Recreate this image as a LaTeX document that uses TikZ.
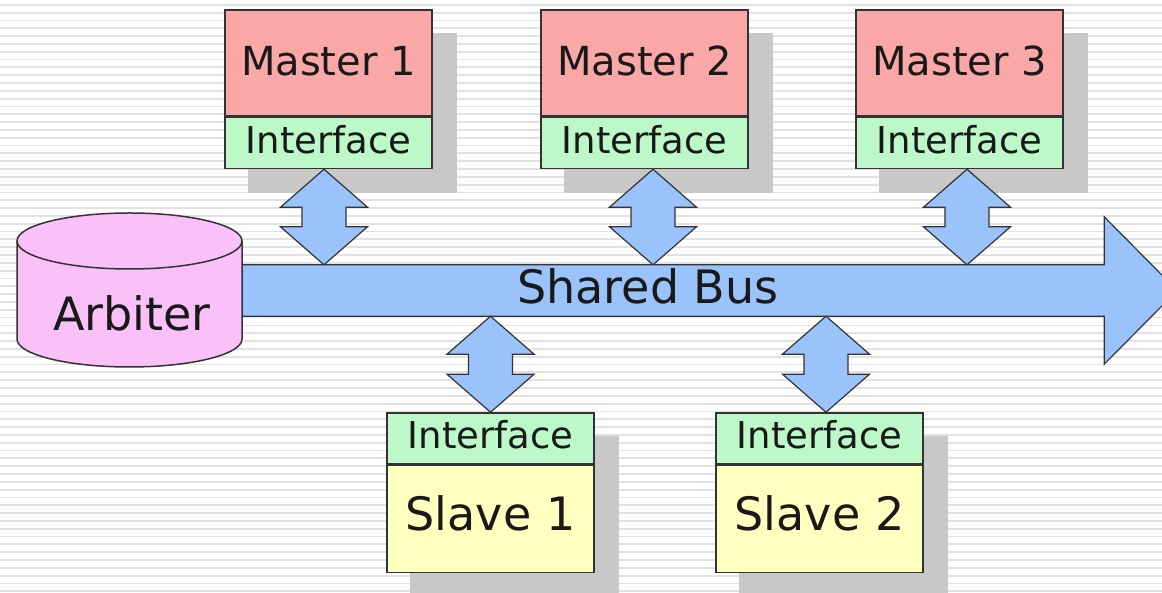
\documentclass[tikz,border=0pt]{standalone}
\usepackage{fontspec}
\setmainfont{DejaVu Sans}
\usetikzlibrary{calc}

\definecolor{masterred}{HTML}{F9A7A7}
\definecolor{ifacegreen}{HTML}{BDF8C9}
\definecolor{slaveyellow}{HTML}{FFFFC0}
\definecolor{arbpink}{HTML}{F9C0F9}
\definecolor{busblue}{HTML}{99C3FA}
\definecolor{edgegray}{HTML}{333333}
\definecolor{shadowgray}{HTML}{C8C8C8}
\definecolor{stripegray}{HTML}{E2E2E2}

\pgfdeclarelayer{paper}
\pgfdeclarelayer{shade}
\pgfsetlayers{paper,shade,main}

\tikzset{
  box/.style={draw=edgegray, line width=1.5pt, inner sep=0pt,
    minimum width=207pt, text=black!90},
  master/.style={box, fill=masterred, minimum height=106pt,
    text height=29pt, text depth=4pt, font=\fontsize{40}{48}\selectfont},
  iface/.style={box, fill=ifacegreen, minimum height=51pt,
    text height=27pt, text depth=6pt, font=\fontsize{37}{44}\selectfont},
  slave/.style={box, fill=slaveyellow, minimum height=107pt,
    text height=33.5pt, text depth=10pt, font=\fontsize{46}{55}\selectfont},
  boxshadow/.style={fill=shadowgray},
  busfill/.style={fill=busblue, draw=edgegray, line width=1.2pt},
  bigtext/.style={text=black!90, font=\fontsize{46}{55}\selectfont},
}

% two-headed link, #1 = upper tip, #2 = lower tip
\newcommand{\linkarrow}[2]{%
  \draw[busfill] let \p1=#1, \p2=#2 in
    (\x1,\y1) -- ({\x1+43.5pt},{\y1-38pt}) -- ({\x1+22pt},{\y1-38pt})
    -- ({\x1+22pt},{\y2+38pt}) -- ({\x1+43.5pt},{\y2+38pt}) -- (\x1,\y2)
    -- ({\x1-43.5pt},{\y2+38pt}) -- ({\x1-22pt},{\y2+38pt})
    -- ({\x1-22pt},{\y1-38pt}) -- ({\x1-43.5pt},{\y1-38pt}) -- cycle;
}

\begin{document}
\begin{tikzpicture}[x=1pt,y=1pt]
    \useasboundingbox (0,0) rectangle (1162,593);
    \begin{pgfonlayer}{paper}
      \fill[white] (0,0) rectangle (1162,593);
      \foreach \k in {0,...,75}
        \fill[stripegray] (0,{587.3-7.82*\k}) rectangle ++(1162,1.8);
    \end{pgfonlayer}

    % bus
    \node[inner sep=0pt, minimum width=904pt, minimum height=51pt] (bus) at (652,302.5) {};
    \draw[busfill] (bus.north west) -- (bus.north east) -- ++(0,48)
      -- ([xshift=73pt]bus.east) -- ([yshift=-48pt]bus.south east)
      -- (bus.south east) -- (bus.south west) -- cycle;
    \node[bigtext] (bustext) at ([xshift=-4pt,yshift=4pt]bus.center) {Shared Bus};

    % arbiter
    \draw[fill=arbpink, draw=edgegray, line width=1.5pt]
      (17,352) -- (17,254)
      arc[start angle=180, end angle=360, x radius=112.5, y radius=28]
      -- (242,352)
      arc[start angle=0, end angle=180, x radius=112.5, y radius=28] -- cycle;
    \draw[draw=edgegray, line width=1.5pt] (17,352)
      arc[start angle=180, end angle=360, x radius=112.5, y radius=28];
    \node[bigtext] (arbiter) at (132,280) {Arbiter};

    \foreach \n/\x in {1/328.5,2/644.5,3/959.5} {
      \node[master] (master\n) at (\x,530) {Master \n};
      \node[iface, anchor=north] (mif\n) at (master\n.south) {Interface};
      \begin{pgfonlayer}{shade}
        \fill[boxshadow] ([shift={(24,-24)}]master\n.north west)
          rectangle ([shift={(24,-24)}]mif\n.south east);
      \end{pgfonlayer}
    }
    \foreach \n/\x in {1/490.5,2/819.5} {
      \node[iface] (sif\n) at (\x,154.5) {Interface};
      \node[slave, anchor=north] (slave\n) at (sif\n.south) {Slave \n};
      \begin{pgfonlayer}{shade}
        \fill[boxshadow] ([shift={(24,-24)}]sif\n.north west)
          rectangle ([shift={(24,-24)}]slave\n.south east);
      \end{pgfonlayer}
    }

    \linkarrow{([xshift=-4.5pt]mif1.south)}{([xshift=-4.5pt]mif1.south |- bus.north)}
    \linkarrow{([xshift=8.5pt]mif2.south)}{([xshift=8.5pt]mif2.south |- bus.north)}
    \linkarrow{([xshift=7.5pt]mif3.south)}{([xshift=7.5pt]mif3.south |- bus.north)}
    \linkarrow{(sif1.north |- bus.south)}{(sif1.north)}
    \linkarrow{([xshift=6.5pt]sif2.north |- bus.south)}{([xshift=6.5pt]sif2.north)}
\end{tikzpicture}
\end{document}
